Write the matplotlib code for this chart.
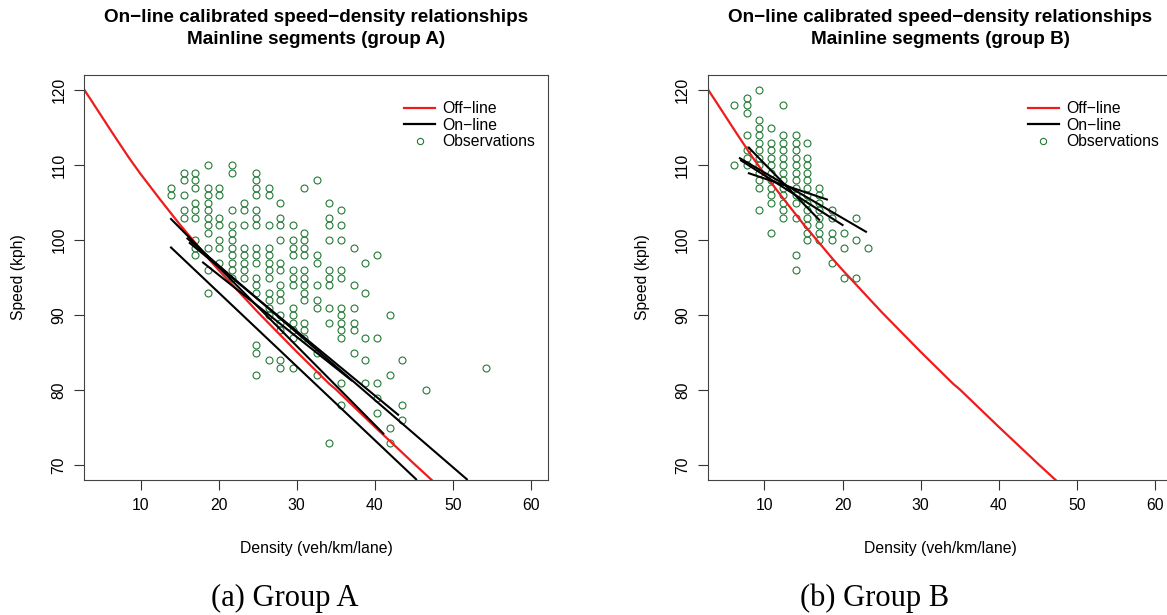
import numpy as np
import matplotlib.pyplot as plt
from matplotlib.lines import Line2D

# Off-line calibrated curve (same in both panels)
offline_k = [2.8, 3.5, 5, 6.5, 8.55, 10, 12.5, 15, 18.8, 20, 25, 30, 34.2, 35, 40, 45, 47.3, 50]
offline_v = [120, 118.9, 116.5, 114.1, 110.9, 108.8, 105.4, 102.1, 97.4, 96.0, 90.4, 85.1, 80.8,
             80.1, 75.1, 70.2, 68.0, 65.4]

# On-line calibrated segments, group A: (k start, v start, k end, v end)
online_a = [
    (13.9, 102.8, 41.1, 74.2),
    (13.9, 99.0, 45.3, 68.1),
    (16.0, 100.2, 51.8, 68.1),
    (16.3, 99.6, 43.0, 76.7),
    (18.0, 97.0, 37.0, 81.3),
]
# group B
online_b = [
    (8.0, 112.3, 17.0, 102.7),
    (6.85, 110.9, 23.0, 101.1),
    (7.0, 110.6, 20.0, 102.0),
    (8.0, 108.9, 18.0, 105.4),
]

# Observations, group A: density column -> speeds
obs_a = {
    13.9: [107, 106],
    15.5: [109, 108, 106, 104, 103],
    17.0: [109, 108, 107, 105, 104, 103, 100, 99, 98],
    18.6: [110, 107, 106, 105, 104, 103, 102, 101, 99, 96, 93],
    20.1: [107, 106, 103, 102, 100, 99, 97],
    21.7: [110, 109, 104, 102, 101, 100, 99, 98, 97, 96, 95],
    23.3: [105, 104, 102, 99, 98, 97, 96, 95],
    24.8: [109, 108, 107, 106, 104, 103, 102, 99, 98, 97, 95, 94, 93, 86, 85, 82],
    26.4: [107, 106, 102, 99, 98, 97, 96, 95, 93, 92, 91, 90, 84],
    27.9: [105, 103, 102, 100, 97, 96, 94, 93, 92, 90, 89, 88, 84, 83],
    29.5: [102, 100, 99, 98, 96, 95, 94, 91, 90, 89, 88, 87, 83],
    31.0: [107, 101, 100, 99, 98, 96, 95, 94, 93, 92, 89, 88, 87],
    32.6: [108, 98, 97, 94, 92, 91, 85, 82],
    34.1: [105, 103, 102, 100, 96, 95, 94, 91, 89, 73],
    35.7: [104, 102, 100, 96, 95, 91, 90, 89, 88, 87, 81, 78],
    37.3: [99, 94, 91, 89, 88, 85],
    38.8: [97, 93, 87, 84, 81],
    40.3: [98, 87, 81, 79, 77],
    41.9: [90, 82, 75, 73],
    43.5: [84, 78, 76],
    46.6: [80],
    54.3: [83],
}

# Observations, group B
obs_b = {
    6.1: [118, 110],
    7.7: [119, 118, 117, 114, 112, 111, 110],
    9.25: [120, 116, 115, 114, 113, 112, 111, 110, 109, 108, 107, 104],
    10.8: [115, 113, 112, 111, 110, 109, 108, 107, 106, 105, 101],
    12.4: [118, 114, 113, 112, 111, 110, 109, 108, 107, 106, 105, 104, 103],
    14.0: [114, 113, 112, 111, 110, 109, 108, 107, 106, 105, 103, 98, 96],
    15.5: [113, 111, 110, 109, 108, 107, 106, 105, 104, 103, 102, 101, 100],
    17.0: [107, 106, 105, 104, 103, 102, 101, 100],
    18.6: [104, 103, 101, 100, 97],
    20.2: [101, 99, 95],
    21.7: [103, 100, 95],
    23.3: [99],
}

titles = ["On\u2212line calibrated speed\u2212density relationships\nMainline segments (group A)",
          "On\u2212line calibrated speed\u2212density relationships\nMainline segments (group B)"]
captions = ["(a) Group A", "(b) Group B"]

W, H = 1167, 615
GREEN = "#237a37"
RED = "#ee1c1c"
BASE = 11.3
fig = plt.figure(figsize=(W / 100, H / 100), dpi=100)
plt.rcParams['font.family'] = ['Liberation Sans', 'DejaVu Sans']


def draw_panel(x0, obs, online, title, caption, cap_x):
    x1, y0, y1 = x0 + 463.6, 75, 480
    ax = fig.add_axes([x0 / W, 1 - y1 / H, (x1 - x0) / W, (y1 - y0) / H])
    ks = [k for k, vs in obs.items() for _ in vs]
    vs = [v for _, vals in obs.items() for v in vals]
    ax.plot(ks, vs, linestyle="none", marker="o", markersize=5.0,
            markerfacecolor="none", markeredgecolor=GREEN, markeredgewidth=0.8)
    ax.plot(offline_k, offline_v, color=RED, lw=1.6)
    for k0, v0, k1, v1 in online:
        ax.plot([k0, k1], [v0, v1], color="black", lw=1.5)

    ax.set_xlim(2.8, 62.2)
    ax.set_ylim(68, 122)
    ax.set_xticks(range(10, 61, 10))
    ax.set_yticks(range(70, 121, 10))
    ax.set_yticklabels([str(v) for v in range(70, 121, 10)], rotation=90, va="center")
    ax.tick_params(direction="out", length=7, width=0.8, colors="#333333",
                   labelcolor="black", labelsize=BASE)
    ax.tick_params(axis="x", pad=6)
    ax.tick_params(axis="y", pad=6)
    for s in ax.spines.values():
        s.set_color("#444444")
        s.set_linewidth(0.8)

    handles = [Line2D([], [], color=RED, lw=1.6),
               Line2D([], [], color="black", lw=1.6),
               Line2D([], [], linestyle="none", marker="o", markersize=4.5,
                      markerfacecolor="none", markeredgecolor=GREEN, markeredgewidth=0.8)]
    ax.legend(handles, ["Off\u2212line", "On\u2212line", "Observations"],
              loc="upper left", bbox_to_anchor=(0.69, 0.935), frameon=False,
              borderaxespad=0, borderpad=0, handlelength=1.95, handletextpad=0.45,
              labelspacing=0.1, fontsize=BASE)

    cx = (x0 + x1) / 2
    t1, t2 = title.split("\n")
    fig.text(cx / W, 1 - 18 / H, t1, ha="center", va="center", fontsize=BASE * 1.2, fontweight="bold")
    fig.text(cx / W, 1 - 40 / H, t2, ha="center", va="center", fontsize=BASE * 1.2, fontweight="bold")
    fig.text(cx / W, 1 - 549 / H, "Density (veh/km/lane)", ha="center", va="center", fontsize=BASE)
    fig.text((x0 - 66) / W, 1 - 277 / H, "Speed (kph)", ha="center", va="center",
             rotation=90, fontsize=BASE)
    fig.text(cap_x / W, 1 - 598 / H, caption, ha="center", va="center", fontsize=22,
             family=["Liberation Serif", "DejaVu Serif"])
    return ax


draw_panel(84.4, obs_a, online_a, titles[0], captions[0], 285)
draw_panel(708.3, obs_b, online_b, titles[1], captions[1], 875)

fig.savefig("out.png", dpi=100)
